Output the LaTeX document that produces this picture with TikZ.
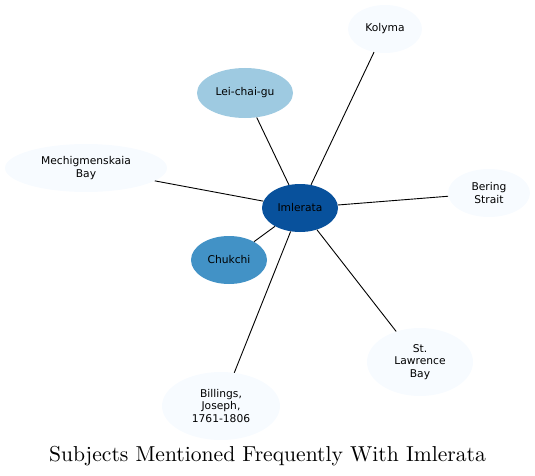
\documentclass[tikz,border=0pt]{standalone}
\usepackage{fontspec}
\newfontfamily\nodefont{DejaVu Sans}
\usetikzlibrary{shapes.geometric}
\definecolor{cdark}{HTML}{08519C}
\definecolor{cmid}{HTML}{4292C6}
\definecolor{clight}{HTML}{9ECAE1}
\definecolor{cpale}{HTML}{F7FBFF}
\begin{document}
\begin{tikzpicture}[x=1pt,y=1pt,
  subj/.style={ellipse,draw=none,inner sep=0pt,align=center,
    font=\nodefont\fontsize{10.7}{12.3}\selectfont,text=black},
  link/.style={draw=black,line width=0.9pt}]
\useasboundingbox (0,0) rectangle (535,475);
\node[subj,fill=cdark,minimum width=76,minimum height=48] (iml) at (300,267) {Imlerata};
\node[subj,fill=clight,minimum width=96,minimum height=50] (lei) at (245,382) {Lei-chai-gu};
\node[subj,fill=cpale,minimum width=74,minimum height=48] (kol) at (385,446) {Kolyma};
\node[subj,fill=cpale,minimum width=162,minimum height=48] (mec) at (86,307) {Mechigmenskaia\\Bay};
\node[subj,fill=cpale,minimum width=82,minimum height=48] (ber) at (489,282) {Bering\\Strait};
\node[subj,fill=cmid,minimum width=76,minimum height=48] (chu) at (229,215) {Chukchi};
\node[subj,fill=cpale,minimum width=106,minimum height=68] (stl) at (420,113) {St.\\Lawrence\\Bay};
\node[subj,fill=cpale,minimum width=118,minimum height=68] (bil) at (221,69) {Billings,\\Joseph,\\1761-1806};
\draw[link] (iml) -- (lei);
\draw[link] (iml) -- (kol);
\draw[link] (iml) -- (mec);
\draw[link] (iml) -- (ber);
\draw[link] (iml) -- (chu);
\draw[link] (iml) -- (stl);
\draw[link] (iml) -- (bil);
\node[anchor=base,inner sep=0pt] (title) at (267.5,14) {\scalebox{2.16}{Subjects Mentioned Frequently With Imlerata}};
\end{tikzpicture}
\end{document}
